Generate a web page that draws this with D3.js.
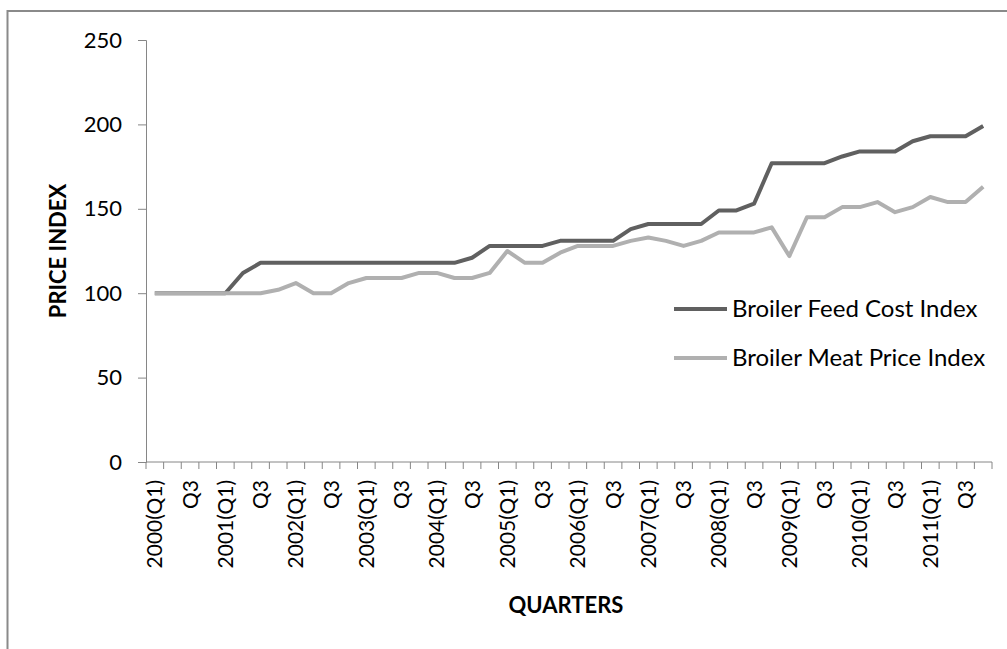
<!DOCTYPE html>
<meta charset="utf-8">
<head>
  <script src="https://d3js.org/d3.v7.min.js"></script>
  <style>
    body { margin: 0; background: #fff; }
    text { font-family: Lato, "Open Sans", sans-serif; fill: #000; }
  </style>
</head>
<body>
  <div id="my_dataviz"></div>
</body>
<script>
  // quarters 2000 Q1 .. 2011 Q4
  var years = ["2000", "2001", "2002", "2003", "2004", "2005", "2006", "2007", "2008", "2009", "2010", "2011"];
  var quarterNames = ["Q1", "Q2", "Q3", "Q4"];

  var feedCost = [100, 100, 100, 100, 100, 112, 118, 118, 118, 118, 118, 118,
                  118, 118, 118, 118, 118, 118, 121, 128, 128, 128, 128, 131,
                  131, 131, 131, 138, 141, 141, 141, 141, 149, 149, 153, 177,
                  177, 177, 177, 181, 184, 184, 184, 190, 193, 193, 193, 199];
  var meatPrice = [100, 100, 100, 100, 100, 100, 100, 102, 106, 100, 100, 106,
                   109, 109, 109, 112, 112, 109, 109, 112, 125, 118, 118, 124,
                   128, 128, 128, 131, 133, 131, 128, 131, 136, 136, 136, 139,
                   122, 145, 145, 151, 151, 154, 148, 151, 157, 154, 154, 163];

  var yTicks = [0, 50, 100, 150, 200, 250];

  var quarters = [];
  years.forEach(function (y) {
    quarterNames.forEach(function (q) { quarters.push(y + q); });
  });

  function quarterLabel(d, i) {
    if (i % 4 == 0) return d.slice(0, 4) + "(Q1)";
    if (i % 4 == 2) return "Q3";
    return "";
  }

  var series = [
    { name: "Broiler Feed Cost Index", values: feedCost, color: "#606060" },
    { name: "Broiler Meat Price Index", values: meatPrice, color: "#b0b0b0" }
  ];

  var W = 1007, H = 649;
  var margin = { top: 40, left: 146 },
    width = 992 - margin.left,
    height = 462 - margin.top;

  var root = d3.select("#my_dataviz")
    .append("svg")
    .attr("width", W)
    .attr("height", H);

  // outer frame
  root.append("rect")
    .attr("x", 7.5).attr("y", 11)
    .attr("width", W + 10).attr("height", H + 10)
    .attr("fill", "none")
    .attr("stroke", "#8a8a8a")
    .attr("stroke-width", 2);

  var svg = root.append("g")
    .attr("transform", "translate(" + margin.left + "," + margin.top + ")");

  var x = d3.scaleBand()
    .domain(quarters)
    .range([0, width]);

  var y = d3.scaleLinear()
    .domain([0, 250])
    .range([height, 0]);

  // Y axis
  var yAxis = svg.append("g")
    .call(d3.axisLeft(y).tickValues(yTicks).tickSize(8).tickPadding(16));
  yAxis.select(".domain").attr("stroke", "#868686");
  yAxis.selectAll(".tick line").attr("stroke", "#868686");
  yAxis.selectAll("text").style("font-size", "22px").attr("fill", "#000");

  // X axis: ticks on category boundaries
  var xAxis = svg.append("g")
    .attr("transform", "translate(0," + height + ")");
  xAxis.append("line")
    .attr("x1", 0).attr("x2", width)
    .attr("y1", 0).attr("y2", 0)
    .attr("stroke", "#868686");
  xAxis.selectAll("line.tk")
    .data(quarters.concat(["end"]))
    .enter()
    .append("line")
    .attr("class", "tk")
    .attr("x1", function (d, i) { return i * x.step(); })
    .attr("x2", function (d, i) { return i * x.step(); })
    .attr("y1", 0).attr("y2", 7)
    .attr("stroke", "#868686");
  xAxis.selectAll("text.lbl")
    .data(quarters)
    .enter()
    .append("text")
    .attr("class", "lbl")
    .attr("transform", function (d) {
      return "translate(" + (x(d) + x.bandwidth() / 2 + 7.5) + ",18)rotate(-90)";
    })
    .style("text-anchor", "end")
    .style("font-size", "21px")
    .text(quarterLabel);

  // lines
  var line = d3.line()
    .x(function (d, i) { return x(quarters[i]) + x.bandwidth() / 2; })
    .y(function (d) { return y(d); });

  svg.selectAll("path.series")
    .data(series)
    .enter()
    .append("path")
    .attr("class", "series")
    .attr("d", function (d) { return line(d.values); })
    .attr("fill", "none")
    .attr("stroke", function (d) { return d.color; })
    .attr("stroke-width", 4)
    .attr("stroke-linejoin", "round");

  // axis titles
  root.append("text")
    .attr("transform", "translate(66,251)rotate(-90)")
    .style("text-anchor", "middle")
    .style("font-size", "22px")
    .style("font-weight", "bold")
    .text("PRICE INDEX");

  root.append("text")
    .attr("x", 566).attr("y", 613)
    .style("text-anchor", "middle")
    .style("font-size", "22px")
    .style("font-weight", "bold")
    .text("QUARTERS");

  // legend
  var legend = root.selectAll("g.legend")
    .data(series)
    .enter()
    .append("g")
    .attr("class", "legend")
    .attr("transform", function (d, i) { return "translate(674," + (309 + i * 49) + ")"; });
  legend.append("line")
    .attr("x1", 0).attr("x2", 53)
    .attr("stroke", function (d) { return d.color; })
    .attr("stroke-width", 4);
  legend.append("text")
    .attr("x", 58).attr("y", 8)
    .style("font-size", "24px")
    .text(function (d) { return d.name; });
</script>
